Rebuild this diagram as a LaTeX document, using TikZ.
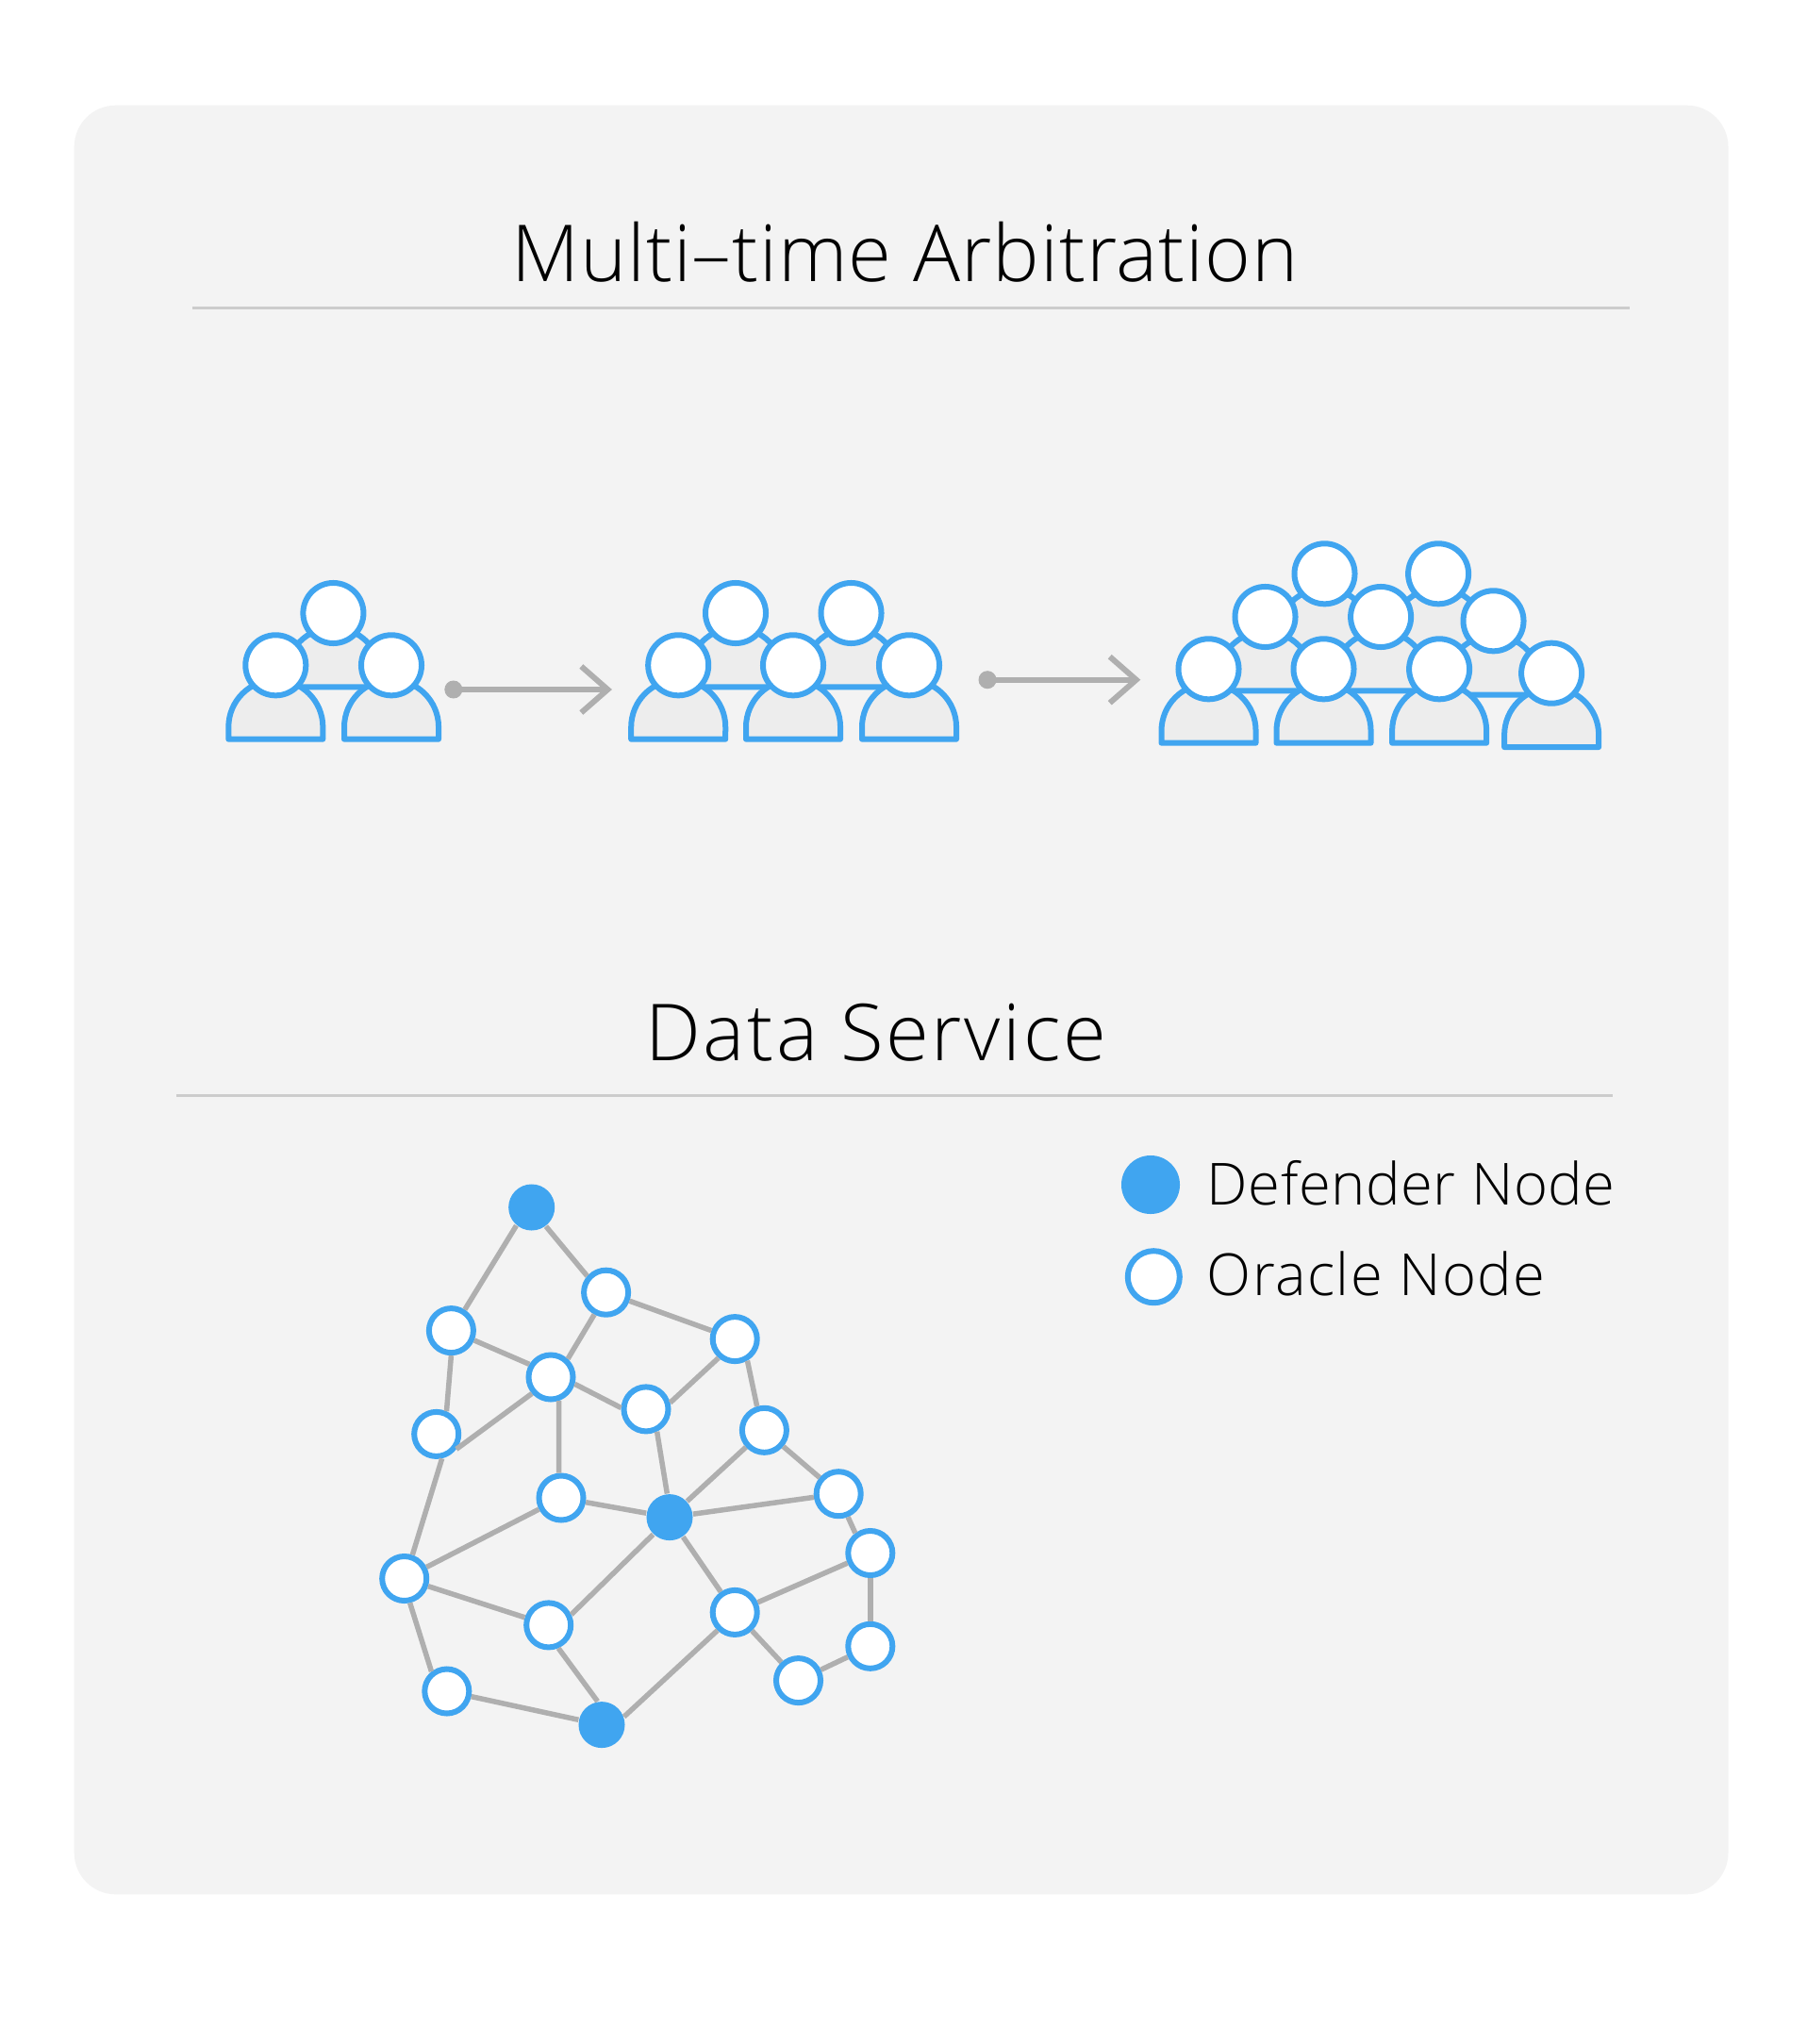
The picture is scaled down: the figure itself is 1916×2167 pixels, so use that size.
\documentclass[tikz,border=0pt]{standalone}
\usepackage{fontspec}
\usepackage{tikz}
\usetikzlibrary{arrows.meta}
\setmainfont{Open Sans Light}
\definecolor{panelgray}{HTML}{F3F3F3}
\definecolor{bodygray}{HTML}{EDEDED}
\definecolor{nodeblue}{HTML}{40A5F0}
\definecolor{linkgray}{HTML}{AFAFAF}
\definecolor{rulegray}{HTML}{CCCCCC}
\tikzset{
	oracle/.style={circle, draw=nodeblue, fill=white, line width=0.06cm, inner sep=0pt, minimum size=0.47cm},
	defender/.style={circle, fill=nodeblue, inner sep=0pt, minimum size=0.49cm},
	link/.style={draw=linkgray, line width=0.055cm},
	head/.style={circle, draw=nodeblue, fill=white, line width=0.06cm, inner sep=0pt, minimum size=0.64cm},
	dotnode/.style={circle, fill=linkgray, inner sep=0pt, minimum size=0.19cm},
	arrowline/.style={draw=linkgray, line width=0.06cm, -{Straight Barb[length=0.28cm, width=0.49cm]}},
	rulerline/.style={draw=rulegray, line width=0.025cm},
	title/.style={anchor=base west, inner sep=0pt, font=\fontsize{23.7}{28}\selectfont\addfontfeature{LetterSpace=#1}},
	legend/.style={anchor=base west, inner sep=0pt, font=\fontsize{17.5}{21}\selectfont\addfontfeature{LetterSpace=#1}},
	person/.pic={
		\draw[draw=nodeblue, fill=bodygray, line width=0.06cm, line join=round] (-50,65.5) arc[start angle=180, end angle=0, radius=0.5cm] -- (50,78.4) -- (-50,78.4) -- cycle;
		\node[head] (-h) at (0,0) {};
	}
}
\begin{document}
\begin{tikzpicture}[x=0.01cm, y=-0.01cm]
	\useasboundingbox (0,0) rectangle (1916,2167);
	\fill[white] (0,0) rectangle (1916,2167);
	\fill[panelgray, rounded corners=0.44cm] (78.7,111.7) rectangle (1832.5,2008.3);

	% titles
	\node[title=1.2] (titleA) at (541.5,299) {Multi–time Arbitration};
	\coordinate (ruleAl) at (203.8,326.7);
	\coordinate (ruleAr) at (1727.6,326.7);
	\draw[rulerline] (ruleAl) -- (ruleAr);
	\node[title=3.1] (titleB) at (683.7,1124.5) {Data Service};
	\coordinate (ruleBl) at (187.3,1161.7);
	\coordinate (ruleBr) at (1710,1161.7);
	\draw[rulerline] (ruleBl) -- (ruleBr);

	% first group
	\pic (pa) at (353.4,650) {person};
	\pic (pb) at (292.3,705.3) {person};
	\pic (pc) at (415,705.3) {person};

	% second group
	\pic (qa) at (780,650) {person};
	\pic (qb) at (902.5,650) {person};
	\pic (qc) at (719.2,705.3) {person};
	\pic (qd) at (841,705.3) {person};
	\pic (qe) at (964,705.3) {person};

	% third group
	\pic (ra) at (1404.5,608.3) {person};
	\pic (rb) at (1525.1,608.3) {person};
	\pic (rc) at (1341.5,654) {person};
	\pic (rd) at (1464.1,654) {person};
	\pic (re) at (1583.5,658.3) {person};
	\pic (rf) at (1281.5,709.3) {person};
	\pic (rg) at (1403.5,709.3) {person};
	\pic (rh) at (1526.1,709.3) {person};
	\pic (ri) at (1645.1,713.7) {person};

	% arrows
	\node[dotnode] (dotA) at (480.8,731) {};
	\coordinate (tipA) at (648.9,731);
	\draw[arrowline] (dotA.center) -- (tipA);
	\node[dotnode] (dotB) at (1047,720.7) {};
	\coordinate (tipB) at (1209.3,720.7);
	\draw[arrowline] (dotB.center) -- (tipB);

	% graph
	\node[defender] (a) at (563.7,1280) {};
	\node[oracle] (b) at (642.6,1370.2) {};
	\node[oracle] (c) at (478.4,1410.6) {};
	\node[oracle] (d) at (779.2,1419.6) {};
	\node[oracle] (e) at (584,1460) {};
	\node[oracle] (f) at (685,1493.9) {};
	\node[oracle] (g) at (462.7,1520.4) {};
	\node[oracle] (h) at (810.4,1516.3) {};
	\node[oracle] (i) at (889.2,1583.7) {};
	\node[oracle] (j) at (595,1588) {};
	\node[defender] (k) at (710,1608.6) {};
	\node[oracle] (l) at (922.8,1646.5) {};
	\node[oracle] (m) at (428.7,1673.5) {};
	\node[oracle] (n) at (779.2,1709.4) {};
	\node[oracle] (o) at (581.7,1722.9) {};
	\node[oracle] (p) at (922.8,1745.3) {};
	\node[oracle] (q) at (846.5,1781.6) {};
	\node[oracle] (r) at (473.8,1793) {};
	\node[defender] (s) at (638,1828.6) {};

	\path[link] (a.230) edge (c.57);
	\path[link] (a.-53) edge (b.139);
	\path[link] (b) edge (d);
	\path[link] (b.242) edge (e.47);
	\path[link] (c.-23) edge (e.149);
	\path[link] (c.-90) edge (g.66);
	\path[link] (g.-37) edge (e.221);
	\path[link] (e.-16) edge (f.177);
	\path[link] (e.-71) edge (j.95);
	\path[link] (d.229) edge (f.15);
	\path[link] (d.-60) edge (h.107);
	\path[link] (f.-64) edge (k.96);
	\path[link] (h) edge (k);
	\path[link] (h) edge (i);
	\path[link] (i) edge (k);
	\path[link] (i.-68) edge (l.127);
	\path[link] (j) edge (k);
	\path[link] (j) edge (m);
	\path[link] (g.-77) edge (m.71);
	\path[link] (k.226) edge (o.25);
	\path[link] (k) edge (n);
	\path[link] (n) edge (l);
	\path[link] (n) edge (q);
	\path[link] (n.226) edge (s.20);
	\path[link] (l) edge (p);
	\path[link] (p) edge (q);
	\path[link] (m) edge (o);
	\path[link] (m.-77) edge (r.128);
	\path[link] (o.-67) edge (s.100);
	\path[link] (r) edge (s);

	% legend
	\node[defender, minimum size=0.62cm] (keyA) at (1220,1256) {};
	\node[oracle, minimum size=0.55cm] (keyB) at (1223.3,1353.7) {};
	\node[legend=0.9] (textA) at (1279,1277) {Defender Node};
	\node[legend=2.3] (textB) at (1279,1373.7) {Oracle Node};
\end{tikzpicture}
\end{document}
